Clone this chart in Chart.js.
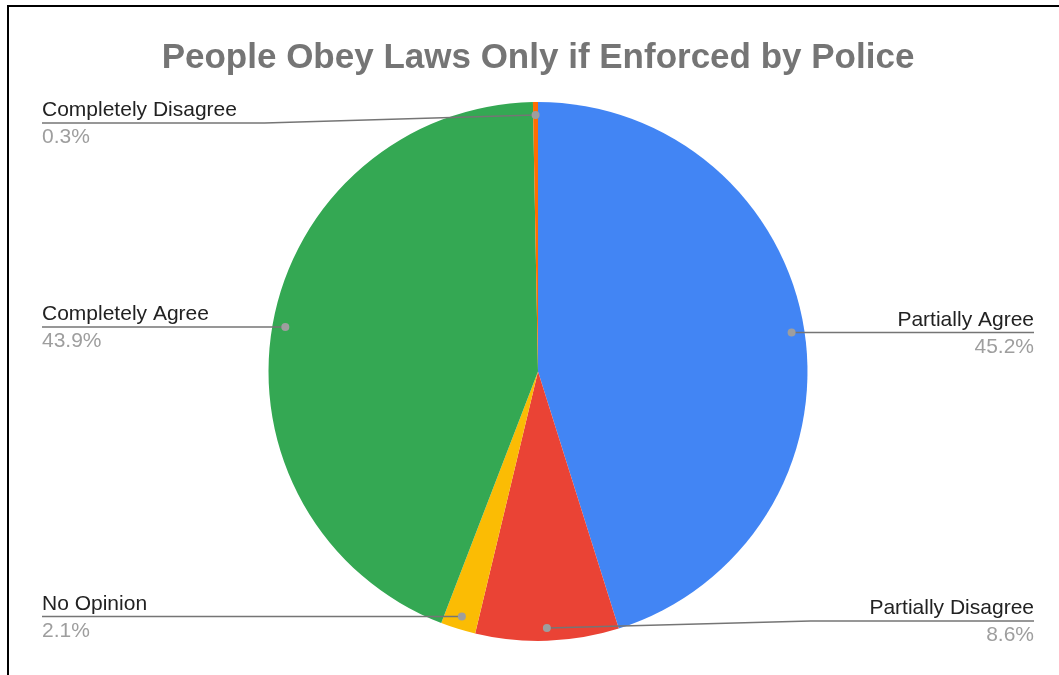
<!DOCTYPE html>
<html>
<head>
<meta charset="utf-8">
<script src="https://cdn.jsdelivr.net/npm/chart.js@4.4.1/dist/chart.umd.min.js"></script>
<style>
  html, body { margin: 0; padding: 0; background: #fff; }
  #wrap { position: relative; width: 1059px; height: 675px; }
  #frame {
    position: absolute; left: 7px; top: 5px; right: 0; bottom: 0;
    border-top: 2px solid #000; border-left: 2px solid #000;
    pointer-events: none;
  }
</style>
</head>
<body>
<div id="wrap">
  <canvas id="pieChart" width="1059" height="675"></canvas>
  <div id="frame"></div>
</div>
<script>
// survey answers, clockwise from the top
var answers = ["Partially Agree", "Partially Disagree", "No Opinion", "Completely Agree", "Completely Disagree"];
var shares = [45.2, 8.6, 2.1, 43.9, 0.3];
var sliceColors = ["#4285f4", "#ea4335", "#fbbc04", "#34a853", "#ff6d01"];

// leader lines + labels drawn off each arc element
var calloutPlugin = {
    id: 'callouts',
    afterDatasetsDraw: function (chart) {
        var ctx = chart.ctx;
        var arcs = chart.getDatasetMeta(0).data;
        arcs.forEach(function (arc, i) {
            var p = arc.getProps(['x', 'y', 'startAngle', 'endAngle', 'outerRadius'], true);
            var mid = (p.startAngle + p.endAngle) / 2;
            var dotX = p.x + Math.cos(mid) * p.outerRadius * 0.952;
            var dotY = p.y + Math.sin(mid) * p.outerRadius * 0.952;
            var right = Math.cos(mid) > 0;
            var lineY = Math.min(Math.max(dotY, 123), 621);
            var elbowX = right ? p.x + p.outerRadius + 3 : p.x - p.outerRadius - 4;
            var edgeX = right ? 1034 : 42;

            ctx.save();
            ctx.strokeStyle = '#757575';
            ctx.lineWidth = 1.5;
            ctx.beginPath();
            ctx.moveTo(dotX, dotY);
            ctx.lineTo(elbowX, lineY);
            ctx.lineTo(edgeX, lineY);
            ctx.stroke();

            ctx.fillStyle = '#9e9e9e';
            ctx.beginPath();
            ctx.arc(dotX, dotY, 4, 0, Math.PI * 2);
            ctx.fill();

            ctx.textAlign = right ? 'right' : 'left';
            ctx.textBaseline = 'alphabetic';
            ctx.font = '21px "Liberation Sans", Arial, sans-serif';
            ctx.fillStyle = '#222222';
            ctx.fillText(answers[i], edgeX, lineY - 7);
            ctx.fillStyle = '#9e9e9e';
            ctx.fillText(shares[i].toFixed(1) + '%', edgeX, lineY + 20);
            ctx.restore();
        });
    }
};

var ctx = document.getElementById('pieChart');

var PieGraph = new Chart(ctx, {
    type: 'pie',
    data: {
        labels: answers,
        datasets: [{
            data: shares,
            backgroundColor: sliceColors,
            borderWidth: 0
        }]
    },
    options: {
        responsive: false,
        animation: false,
        layout: { padding: { left: 17, right: 0, top: 0, bottom: 34 } },
        plugins: {
            legend: { display: false },
            tooltip: { enabled: false },
            title: {
                display: true,
                text: 'People Obey Laws Only if Enforced by Police',
                color: '#757575',
                font: { family: '"Liberation Sans", Arial, sans-serif', size: 35, weight: 'bold', lineHeight: 1.2 },
                padding: { top: 37, bottom: 23 }
            }
        }
    },
    plugins: [calloutPlugin]
});
</script>
</body>
</html>
